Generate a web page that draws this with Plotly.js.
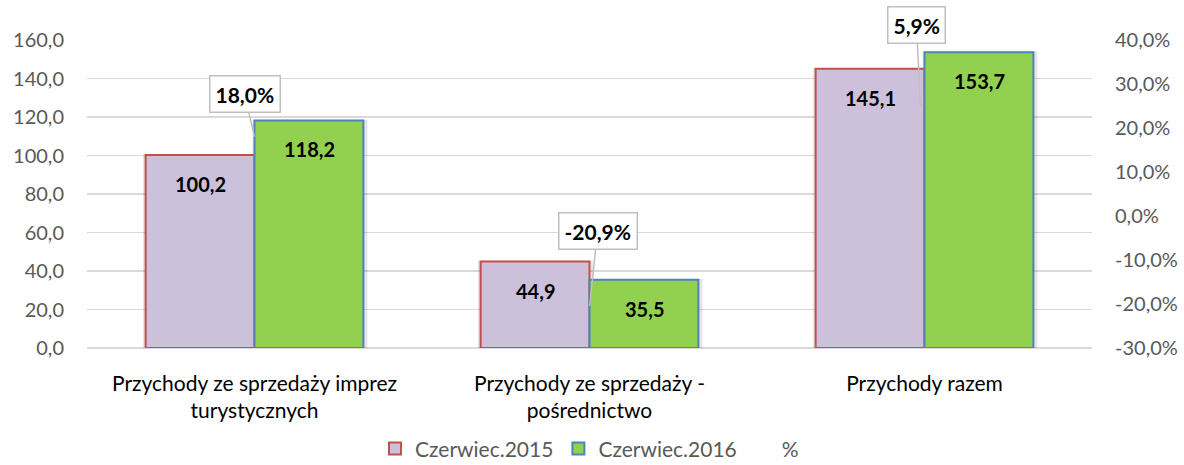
<!DOCTYPE html>
<html>
<head>
<meta charset="utf-8">
<script src="https://cdn.plot.ly/plotly-3.0.1.min.js"></script>
<style>html,body{margin:0;padding:0;background:#fff;}#chart{width:1184px;height:465px;}</style>
</head>
<body>
<div id="chart"></div>
<script>
// ---- data ----
const categories = [
  'Przychody ze sprzedaży imprez<br>turystycznych',
  'Przychody ze sprzedaży -<br>pośrednictwo',
  'Przychody razem'
];
const seriesNames = ['Czerwiec.2015', 'Czerwiec.2016', '%'];
const values2015 = [100.2, 44.9, 145.1];
const values2016 = [118.2, 35.5, 153.7];
const pctChange = [0.180, -0.209, 0.059];
const leftTicks = [0, 20, 40, 60, 80, 100, 120, 140, 160];
const rightTicks = [-0.3, -0.2, -0.1, 0, 0.1, 0.2, 0.3, 0.4];

// ---- helpers / styles ----
const FONT = 'Lato, Carlito, "Open Sans", sans-serif';
const fmt1 = v => v.toFixed(1).replace('.', ',');
const barW = 0.325;
const shadowBase = -2.2;

const shadow = (vals, off) => ({
  type: 'bar', x: categories, y: vals.map(v => v - shadowBase + 0.4), base: shadowBase,
  width: barW + 0.018, offset: off, marker: {color: 'rgba(0,0,0,0.10)', line: {width: 0}},
  showlegend: false, hoverinfo: 'skip', yaxis: 'y'
});

const traces = [
  shadow(values2015, -barW - 0.008),
  shadow(values2016, -0.006),
  {
    type: 'bar', name: seriesNames[0], x: categories, y: values2015,
    width: barW, offset: -barW,
    marker: {color: '#ccc0da', line: {color: '#c0504d', width: 2}}
  },
  {
    type: 'bar', name: seriesNames[1], x: categories, y: values2016,
    width: barW, offset: 0,
    marker: {color: '#92d050', line: {color: '#4f81bd', width: 2}}
  },
  {
    type: 'scatter', mode: 'lines', name: seriesNames[2], x: categories, y: pctChange,
    yaxis: 'y2', line: {color: 'rgba(0,0,0,0)', width: 0}, hoverinfo: 'skip'
  }
];

// value labels inside the bars (positioned through the axes)
const barLabel = (vals, dx) => vals.map((v, i) => ({
  xref: 'x', yref: 'y', x: categories[i], y: v, xshift: dx, yshift: -29,
  yanchor: 'middle', xanchor: 'center', showarrow: false,
  text: '<b>' + fmt1(v) + '</b>', font: {family: FONT, size: 20, color: '#000'}
}));

// callout offsets (pixels) for each % label
const calloutStyle = [
  {ax: -10, ay: -43, standoff: 0},
  {ax: 8, ay: -77, standoff: 2},
  {ax: -8, ay: -165, standoff: 84}
];
const callouts = pctChange.map((p, i) => ({
  xref: 'x', yref: 'y2', x: categories[i], y: p,
  text: '<b>' + fmt1(p * 100) + '%</b>',
  font: {family: FONT, size: 21, color: '#000'},
  bgcolor: '#ffffff', bordercolor: '#bfbfbf', borderwidth: 1.5, borderpad: 5,
  showarrow: true, arrowhead: 0, arrowwidth: 1.5, arrowcolor: '#bfbfbf',
  ax: calloutStyle[i].ax, ay: calloutStyle[i].ay, standoff: calloutStyle[i].standoff
}));

const layout = {
  width: 1184, height: 465,
  margin: {l: 87, r: 92, t: 40, b: 117, autoexpand: false},
  paper_bgcolor: '#fff', plot_bgcolor: '#fff',
  separators: ', ',
  barmode: 'overlay',
  font: {family: FONT, color: '#595959', size: 20},
  showlegend: true,
  legend: {orientation: 'h', x: 0.5, xanchor: 'center', yref: 'container', y: 0.035, yanchor: 'middle',
           font: {family: FONT, size: 21, color: '#595959'}, traceorder: 'normal', itemwidth: 30},
  xaxis: {
    type: 'category', showgrid: false, zeroline: false, showline: false, automargin: false,
    tickfont: {family: FONT, size: 21, color: '#000'}, ticks: '', ticklabelstandoff: 21,
    range: [-0.5, 2.5]
  },
  yaxis: {
    range: [0, 160], tickvals: leftTicks, tickformat: '.1f', automargin: false,
    showgrid: true, gridcolor: '#d9d9d9', gridwidth: 1.5,
    zeroline: true, zerolinecolor: '#d9d9d9', zerolinewidth: 2, showline: false,
    tickfont: {family: FONT, size: 20, color: '#595959'}, ticks: '', ticklabelstandoff: 22
  },
  yaxis2: {
    overlaying: 'y', side: 'right', range: [-0.3, 0.4], automargin: false,
    tickvals: rightTicks, ticktext: rightTicks.map(t => fmt1(t * 100) + '%'),
    showgrid: false, zeroline: false, showline: false,
    tickfont: {family: FONT, size: 20, color: '#595959'}, ticks: '', ticklabelstandoff: 22
  },
  annotations: barLabel(values2015, -54).concat(barLabel(values2016, 55), callouts)
};

Plotly.newPlot('chart', traces, layout, {displayModeBar: false, staticPlot: true});
</script>
</body>
</html>
